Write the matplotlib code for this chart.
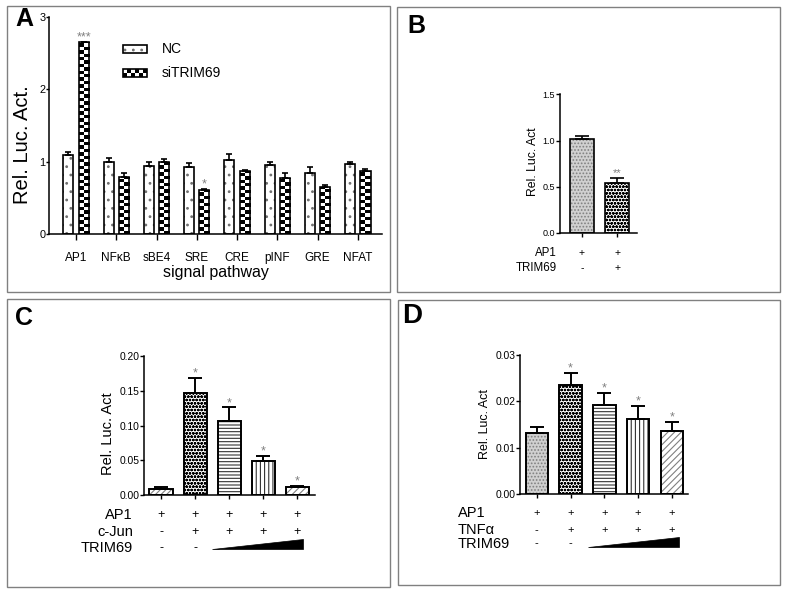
import numpy as np
import matplotlib
matplotlib.use('Agg')
import matplotlib.pyplot as plt
from matplotlib.patches import Rectangle, Polygon
from matplotlib.transforms import blended_transform_factory

plt.rcParams['font.family'] = ['Liberation Sans', 'DejaVu Sans']
plt.rcParams['hatch.linewidth'] = 0.8

# ---------------- data ----------------
a_categories = ['AP1', 'NFκB', 'sBE4', 'SRE', 'CRE', 'pINF', 'GRE', 'NFAT']
a_nc = [1.09, 1.00, 0.945, 0.92, 1.02, 0.96, 0.85, 0.97]
a_nc_err = [0.05, 0.05, 0.045, 0.06, 0.08, 0.04, 0.08, 0.03]
a_si = [2.65, 0.79, 1.00, 0.61, 0.87, 0.78, 0.65, 0.875]
a_si_err = [0.01, 0.06, 0.04, 0.015, 0.015, 0.06, 0.03, 0.025]
a_stars = ['***', '', '', '*', '', '', '', '']
a_series = ['NC', 'siTRIM69']
a_yticks = [0, 1, 2, 3]

b_values = [1.02, 0.54]
b_err = [0.03, 0.06]
b_stars = ['', '**']
b_row_labels = ['AP1', 'TRIM69']
b_row_signs = [['+', '+'], ['-', '+']]
b_yticks = [0.0, 0.5, 1.0, 1.5]

c_values = [0.0092, 0.147, 0.106, 0.0488, 0.012]
c_err = [0.0022, 0.022, 0.020, 0.0072, 0.0014]
c_stars = ['', '*', '*', '*', '*']
c_row_labels = ['AP1', 'c-Jun', 'TRIM69']
c_row_signs = [['+', '+', '+', '+', '+'], ['-', '+', '+', '+', '+'], ['-', '-', '', '', '']]
c_yticks = [0.00, 0.05, 0.10, 0.15, 0.20]

d_values = [0.0131, 0.0236, 0.0192, 0.0161, 0.0137]
d_err = [0.0014, 0.0026, 0.0026, 0.0029, 0.0018]
d_stars = ['', '*', '*', '*', '*']
d_row_labels = ['AP1', 'TNFα', 'TRIM69']
d_row_signs = [['+', '+', '+', '+', '+'], ['-', '+', '+', '+', '+'], ['-', '-', '', '', '']]
d_yticks = [0.00, 0.01, 0.02, 0.03]

# ---------------- layout helpers ----------------
W, H = 787, 594
fig = plt.figure(figsize=(W / 100, H / 100), dpi=100)


def fx(x):
    return x / W


def fy(y):
    return 1 - y / H


def axes_px(x0, x1, y_top, y_bot):
    return fig.add_axes([fx(x0), fy(y_bot), (x1 - x0) / W, (y_bot - y_top) / H])


def ftext(x, y, s, **kw):
    return fig.text(fx(x), fy(y), s, **kw)


def style(ax, tick_fs, yticks, fmt, xlen=3, ylen=3):
    for s in ['top', 'right']:
        ax.spines[s].set_visible(False)
    for s in ['left', 'bottom']:
        ax.spines[s].set_linewidth(1.1)
    ax.tick_params(axis='y', direction='out', length=ylen, width=1.0, labelsize=tick_fs, pad=0.5)
    ax.tick_params(axis='x', direction='out', length=xlen, width=1.0, labelsize=tick_fs)
    ax.set_yticks(yticks)
    ax.set_yticklabels([fmt.format(v) for v in yticks])
    ax.patch.set_alpha(0)


def pattern_bar(ax, x, h, w, face, hatch, hcolor, lw=1.2):
    ax.bar(x, h, w, color=face, edgecolor=hcolor, hatch=hatch, lw=0, zorder=2)
    return ax.bar(x, h, w, fill=False, edgecolor='black', lw=lw, zorder=3)


def checker_bars(ax, bars, cell_h):
    for b in bars:
        x0, w, h = b.get_x(), b.get_width(), b.get_height()
        n = max(1, int(np.ceil(h / cell_h)))
        arr = np.indices((n, 2)).sum(0) % 2
        im = ax.imshow(arr, cmap='Greys', vmin=0, vmax=1, interpolation='nearest',
                       extent=(x0, x0 + w, 0, n * cell_h), origin='lower',
                       aspect='auto', zorder=2)
        im.set_clip_path(b)


def errs(ax, x, v, e, cs, lw=1.2):
    ax.errorbar(x, v, yerr=[np.zeros(len(v)), e], fmt='none', ecolor='black',
                elinewidth=lw, capsize=cs, capthick=lw, zorder=4)


def stars(ax, x, v, e, s, fs=9):
    for xi, vi, ei, si in zip(x, v, e, s):
        if si:
            ax.annotate(si, (xi, vi + ei), xytext=(0, 1), textcoords='offset points',
                        ha='center', va='baseline', fontsize=fs, color='#808080')


def rows(ax, labels, signs, ys, lab_x, ha, lab_fs, sign_fs):
    trans = blended_transform_factory(ax.transData, fig.transFigure)
    for lab, sg, y in zip(labels, signs, ys):
        ftext(lab_x, y, lab, ha=ha, va='center', fontsize=lab_fs)
        for xi, s in enumerate(sg):
            if s:
                ax.text(xi, fy(y), s, transform=trans, ha='center', va='center',
                        fontsize=sign_fs, clip_on=False)
    return trans


# ---------------- frames & panel letters ----------------
for (x0, y0, x1, y1) in [(7, 6, 390, 292), (397, 7, 780, 292), (7, 299, 390, 587), (398, 300, 780, 585)]:
    fig.patches.append(Rectangle((fx(x0), fy(y1)), (x1 - x0) / W, (y1 - y0) / H,
                                 transform=fig.transFigure, fill=False, ec='#808080', lw=1.0))
for (x, y, s, fs) in [(15, 26, 'A', 18), (407, 33, 'B', 18), (15, 325, 'C', 18), (402, 323, 'D', 20)]:
    ftext(x, y, s, fontsize=fs, fontweight='bold', ha='left', va='baseline')

# ---------------- panel A ----------------
axA = axes_px(49, 382, 17, 234)
xa = np.arange(len(a_categories))
off = 0.19
bw = 0.25
pattern_bar(axA, xa - off, a_nc, bw, 'white', '..', '#707070')
si_bars = axA.bar(xa + off, a_si, bw, color='white', lw=0, zorder=1)
checker_bars(axA, si_bars, 0.047)
axA.bar(xa + off, a_si, bw, fill=False, edgecolor='black', lw=1.2, zorder=3)
errs(axA, xa - off, a_nc, a_nc_err, 2.3)
errs(axA, xa + off, a_si, a_si_err, 2.3)
stars(axA, xa + off, a_si, a_si_err, a_stars, fs=9)
style(axA, 7.8, a_yticks, '{:g}', xlen=4, ylen=2)
axA.set_xticks(xa)
axA.set_xticklabels(a_categories, fontsize=8.5)
axA.tick_params(axis='x', pad=9)
axA.set_xlim(-0.67, 7.6)
axA.set_ylim(0, 3)
ftext(23, 145, 'Rel. Luc. Act.', rotation=90, ha='center', va='center', fontsize=14.5)
ftext(216, 273, 'signal pathway', ha='center', va='center', fontsize=11.5)

# legend A
fig.patches.append(Rectangle((fx(123), fy(53)), 24 / W, 8 / H, transform=fig.transFigure,
                             facecolor='white', edgecolor='#707070', hatch='..', lw=0))
fig.patches.append(Rectangle((fx(123), fy(53)), 24 / W, 8 / H, transform=fig.transFigure,
                             fill=False, edgecolor='black', lw=1.2))
fig.patches.append(Rectangle((fx(123), fy(77)), 24 / W, 8 / H, transform=fig.transFigure,
                             facecolor='white', edgecolor='black', lw=1.2))
for r in range(2):
    for c in range(6):
        if (r + c) % 2 == 0:
            fig.patches.append(Rectangle((fx(123 + c * 4), fy(77 - r * 4) + 0), 4 / W, 4 / H,
                                         transform=fig.transFigure, facecolor='black', lw=0))
ftext(162, 49, a_series[0], ha='left', va='center', fontsize=10)
ftext(162, 73, a_series[1], ha='left', va='center', fontsize=10)

# ---------------- panel B ----------------
axB = axes_px(560, 637, 94.3, 233)
xb = np.arange(len(b_values))
pattern_bar(axB, xb[0], b_values[0], 0.67, '#d0d0d0', '.....', '#808080')
pattern_bar(axB, xb[1], b_values[1], 0.67, 'white', 'ooooo', 'black')
errs(axB, xb, b_values, b_err, 5)
stars(axB, xb, b_values, b_err, b_stars, fs=8)
style(axB, 6.5, b_yticks, '{:.1f}')
axB.set_xticks(xb)
axB.set_xticklabels([])
axB.set_xlim(-0.62, 1.56)
axB.set_ylim(0, 1.5)
ftext(533, 162, 'Rel. Luc. Act', rotation=90, ha='center', va='center', fontsize=8.8)
rows(axB, b_row_labels, b_row_signs, [253, 268], 557, 'right', 8.3, 7.5)

# ---------------- panel C ----------------
c_patterns = [('white', '//////', '#808080'), ('white', 'ooooo', 'black'),
              ('white', '-----', '#333333'), ('white', '||||', '#333333'),
              ('white', '/////', '#808080')]
axC = axes_px(144, 315, 356, 495)
xc = np.arange(len(c_values))
for xi, v, (fc, ht, hc) in zip(xc, c_values, c_patterns):
    pattern_bar(axC, xi, v, 0.68, fc, ht, hc, lw=1.4)
errs(axC, xc, c_values, c_err, 5, lw=1.4)
stars(axC, xc, c_values, c_err, c_stars, fs=9)
style(axC, 7.4, c_yticks, '{:.2f}')
axC.set_xticks(xc)
axC.set_xticklabels([])
axC.set_xlim(-0.5, 4.52)
axC.set_ylim(0, 0.20)
ftext(108, 434, 'Rel. Luc. Act', rotation=90, ha='center', va='center', fontsize=10.5)
trC = rows(axC, c_row_labels, c_row_signs, [515, 532, 548], 133, 'right', 10.5, 9)
axC.add_patch(Polygon([[1.5, fy(549)], [4.16, fy(549)], [4.16, fy(539)]], closed=True,
                      transform=trC, fc='black', ec='black', lw=0.5, clip_on=False))

# ---------------- panel D ----------------
d_patterns = [('#d0d0d0', '.....', '#808080'), ('white', 'ooooo', 'black'),
              ('white', '-----', '#333333'), ('white', '||||', '#333333'),
              ('white', '/////', '#808080')]
axD = axes_px(520, 688, 355, 494)
xd = np.arange(len(d_values))
for xi, v, (fc, ht, hc) in zip(xd, d_values, d_patterns):
    pattern_bar(axD, xi, v, 0.67, fc, ht, hc, lw=1.4)
errs(axD, xd, d_values, d_err, 5, lw=1.4)
stars(axD, xd, d_values, d_err, d_stars, fs=9)
style(axD, 7.4, d_yticks, '{:.2f}')
axD.set_xticks(xd)
axD.set_xticklabels([])
axD.set_xlim(-0.5, 4.48)
axD.set_ylim(0, 0.03)
ftext(485, 424, 'Rel. Luc. Act', rotation=90, ha='center', va='center', fontsize=9)
trD = rows(axD, d_row_labels, d_row_signs, [513, 530, 543.5], 458, 'left', 10.5, 8)
axD.add_patch(Polygon([[1.52, fy(547.3)], [4.22, fy(547.3)], [4.22, fy(537.3)]], closed=True,
                      transform=trD, fc='black', ec='black', lw=0.5, clip_on=False))

fig.savefig('out.png', dpi=100)
